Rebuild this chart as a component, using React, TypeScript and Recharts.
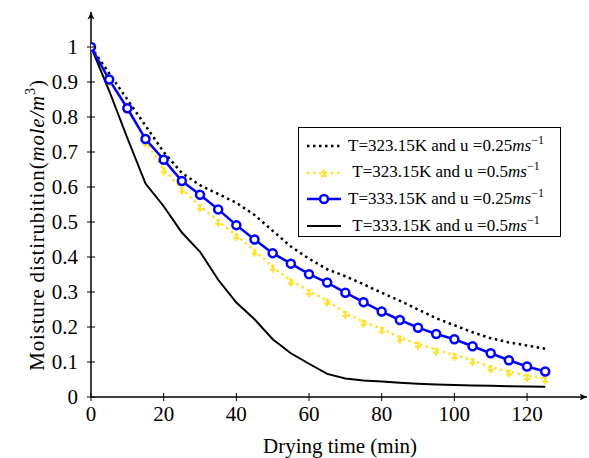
import React from 'react';
import { LineChart, Line, XAxis, YAxis, Legend } from 'recharts';

// Drying time (min)
const times = [0, 5, 10, 15, 20, 25, 30, 35, 40, 45, 50, 55, 60, 65, 70, 75, 80, 85, 90, 95, 100, 105, 110, 115, 120, 125];

// T=323.15K, u=0.25 m/s (black dotted)
const t323u025 = [1.0, 0.925, 0.85, 0.775, 0.70, 0.64, 0.605, 0.58, 0.555, 0.52, 0.475, 0.43, 0.395, 0.365, 0.345, 0.322, 0.298, 0.275, 0.25, 0.225, 0.205, 0.185, 0.168, 0.156, 0.147, 0.138];
// T=323.15K, u=0.5 m/s (yellow)
const t323u05 = [1.0, 0.905, 0.825, 0.73, 0.65, 0.595, 0.545, 0.503, 0.462, 0.418, 0.372, 0.333, 0.303, 0.275, 0.24, 0.215, 0.195, 0.17, 0.152, 0.135, 0.12, 0.105, 0.085, 0.073, 0.06, 0.053];
// T=333.15K, u=0.25 m/s (blue with circles)
const t333u025 = [1.0, 0.907, 0.825, 0.737, 0.678, 0.617, 0.578, 0.536, 0.491, 0.45, 0.411, 0.381, 0.351, 0.327, 0.298, 0.271, 0.244, 0.22, 0.198, 0.18, 0.165, 0.145, 0.125, 0.105, 0.087, 0.073];
// T=333.15K, u=0.5 m/s (black solid)
const t333u05 = [1.0, 0.875, 0.74, 0.61, 0.545, 0.47, 0.415, 0.335, 0.27, 0.222, 0.165, 0.125, 0.095, 0.066, 0.053, 0.047, 0.044, 0.041, 0.038, 0.036, 0.034, 0.033, 0.032, 0.031, 0.030, 0.029];

const xTicks = [0, 20, 40, 60, 80, 100, 120];
const yTicks = [0, 0.1, 0.2, 0.3, 0.4, 0.5, 0.6, 0.7, 0.8, 0.9, 1];

const legendTexts = ['T=323.15K and u =0.25', 'T=323.15K and u =0.5', 'T=333.15K and u =0.25', 'T=333.15K and u =0.5'];
const unitText = 'ms';
const unitExp = '\u22121';
const xTitle = 'Drying time (min)';
const yTitleMain = 'Moisture distirubition(';
const yTitleUnit = 'mole/m';
const yTitleExp = '3';

const data = times.map((t, i) => ({
  t,
  a: t323u025[i],
  b: t323u05[i],
  c: t333u025[i],
  d: t333u05[i],
}));

const FONT = '"Liberation Serif", "Times New Roman", serif';
const YELLOW = '#ffe12e';
const BLUE = '#0000ff';

const YTick = (props: any) => {
  const { x, y, payload } = props;
  return (
    <g>
      <line x1={x - 4} x2={x + 4} y1={y} y2={y} stroke="#000" strokeWidth={1} />
      <text x={x - 13} y={y} dy={7} textAnchor="end" fontSize={21} fontFamily={FONT} fill="#000">
        {String(payload.value)}
      </text>
    </g>
  );
};

const XTick = (props: any) => {
  const { x, y, payload } = props;
  return (
    <g>
      <line x1={x} x2={x} y1={y - 4} y2={y + 4} stroke="#000" strokeWidth={1} />
      <text x={x} y={y + 24} textAnchor="middle" fontSize={21} fontFamily={FONT} fill="#000">
        {String(payload.value)}
      </text>
    </g>
  );
};

const YTitle = () => (
  <text
    x={44}
    y={225}
    transform="rotate(-90, 44, 225)"
    textAnchor="middle"
    fontSize={21}
    letterSpacing={0.8}
    fontFamily={FONT}
    fill="#000"
  >
    {yTitleMain}
    <tspan fontStyle="italic">{yTitleUnit}</tspan>
    <tspan fontSize={14} dy={-9}>{yTitleExp}</tspan>
    <tspan dy={9}>)</tspan>
  </text>
);

const XTitle = () => (
  <text x={340} y={453} textAnchor="middle" fontSize={21} fontFamily={FONT} fill="#000">
    {xTitle}
  </text>
);

const PlusDot = (p: any) => {
  const { cx, cy } = p;
  if (cx == null || cy == null) return null;
  return (
    <path
      d={`M${cx - 3},${cy + 3}h6M${cx},${cy}v6M${cx - 2},${cy - 1}h4`}
      stroke={YELLOW}
      strokeWidth={2}
      fill="none"
    />
  );
};

const Sample = ({ kind }: { kind: number }) => {
  if (kind === 0)
    return (
      <svg width={36} height={12} style={{ display: 'block' }}>
        <line x1={1} x2={35} y1={6} y2={6} stroke="#000" strokeWidth={2.5} strokeDasharray="2.5 3.5" />
      </svg>
    );
  if (kind === 1)
    return (
      <svg width={36} height={12} style={{ display: 'block' }}>
        <line x1={1} x2={35} y1={6} y2={6} stroke={YELLOW} strokeWidth={2.5} strokeDasharray="2.5 3.5" />
        <path d="M15,9h6M18,3v7M16,5h4" stroke={YELLOW} strokeWidth={2} fill="none" />
      </svg>
    );
  if (kind === 2)
    return (
      <svg width={36} height={12} style={{ display: 'block' }}>
        <line x1={1} x2={35} y1={6} y2={6} stroke={BLUE} strokeWidth={2.5} />
        <circle cx={18} cy={6} r={4} stroke={BLUE} strokeWidth={2.5} fill="#fff" />
      </svg>
    );
  return (
    <svg width={36} height={12} style={{ display: 'block' }}>
      <line x1={1} x2={35} y1={6} y2={6} stroke="#000" strokeWidth={2} />
    </svg>
  );
};

const LegendBox = () => (
  <div
    style={{
      width: 263,
      height: 110,
      border: '1.5px solid #000',
      background: '#fff',
      boxSizing: 'border-box',
      paddingTop: 5,
      fontFamily: FONT,
      fontSize: 17,
      color: '#000',
    }}
  >
    {legendTexts.map((txt, i) => (
      <div key={i} style={{ display: 'flex', alignItems: 'center', height: 26.6 }}>
        <div style={{ marginLeft: 7 }}>
          <Sample kind={i} />
        </div>
        <div style={{ width: 208, textAlign: 'center', whiteSpace: 'nowrap', lineHeight: '20px' }}>
          {txt}
          <i>{unitText}</i>
          <sup style={{ fontSize: 12, verticalAlign: 'baseline', position: 'relative', top: -7 }}>{unitExp}</sup>
        </div>
      </div>
    ))}
  </div>
);

export default function App() {
  return (
    <div style={{ position: 'absolute', left: 0, top: 0, width: 589, height: 458, background: '#fff' }}>
      <svg width={0} height={0} style={{ position: 'absolute' }}>
        <defs>
          <marker
            id="axArrow"
            viewBox="0 0 8 8"
            refX={7.5}
            refY={4}
            markerWidth={8}
            markerHeight={8}
            markerUnits="userSpaceOnUse"
            orient="auto-start-reverse"
          >
            <path d="M0,0.5 L7.5,4 L0,7.5 L2,4 Z" fill="#000" />
          </marker>
        </defs>
      </svg>
      <LineChart width={589} height={458} data={data} margin={{ top: 12, right: 2, bottom: 0, left: 0 }}>
        <XAxis
          dataKey="t"
          type="number"
          domain={[0, 136.5]}
          ticks={xTicks}
          allowDataOverflow
          height={61}
          tickSize={0}
          tickMargin={0}
          tickLine={false}
          tick={<XTick />}
          axisLine={{ stroke: '#000', strokeWidth: 1.5, markerEnd: 'url(#axArrow)' }}
          label={<XTitle />}
        />
        <YAxis
          type="number"
          domain={[0, 1.1]}
          ticks={yTicks}
          allowDataOverflow
          width={91}
          tickSize={0}
          tickMargin={0}
          tickLine={false}
          tick={<YTick />}
          axisLine={{ stroke: '#000', strokeWidth: 1.5, markerStart: 'url(#axArrow)' }}
          label={<YTitle />}
        />
        <Legend
          layout="horizontal"
          verticalAlign="middle"
          align="center"
          content={() => <LegendBox />}
          wrapperStyle={{ position: 'absolute', left: 298, top: 127, width: 263, height: 110 }}
        />
        <Line
          dataKey="a"
          stroke="#000"
          strokeWidth={2.5}
          strokeDasharray="2.5 3.6"
          dot={false}
          isAnimationActive={false}
        />
        <Line
          dataKey="b"
          stroke={YELLOW}
          strokeWidth={2.5}
          strokeDasharray="2.5 3.5"
          dot={<PlusDot />}
          isAnimationActive={false}
        />
        <Line
          dataKey="d"
          stroke="#000"
          strokeWidth={2}
          dot={false}
          isAnimationActive={false}
        />
        <Line
          dataKey="c"
          stroke={BLUE}
          strokeWidth={2.5}
          dot={{ r: 4, stroke: BLUE, strokeWidth: 2.5, fill: '#fff' }}
          isAnimationActive={false}
        />
      </LineChart>
    </div>
  );
}
